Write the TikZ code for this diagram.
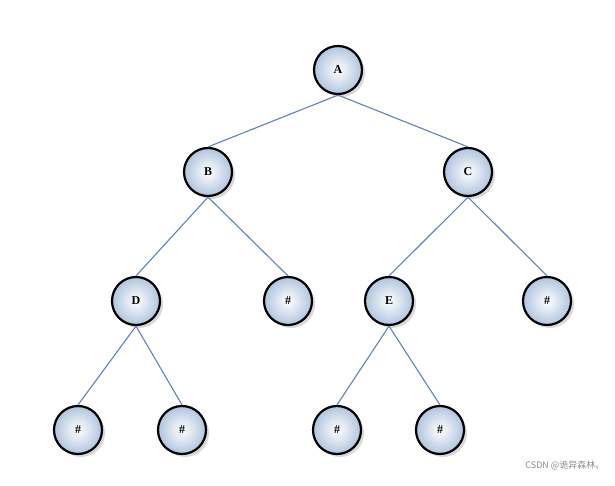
\documentclass[tikz,border=0pt]{standalone}
\usepackage{fontspec}
\setmainfont{Liberation Serif}
\newfontfamily\cjk{Noto Sans CJK SC}
\usetikzlibrary{shadows}
\begin{document}
\begin{tikzpicture}[x=1pt,y=-1pt,
  tn/.style={circle,draw=black,line width=2.2pt,minimum size=48pt,inner sep=0pt,
    inner color=white,outer color={rgb,255:red,176;green,196;blue,222},
    font=\bfseries\large,
    drop shadow={shadow xshift=3pt,shadow yshift=-3pt,fill=black!25,opacity=0.6}},
  ed/.style={draw={rgb,255:red,95;green,130;blue,180},line width=1.1pt}]
\useasboundingbox (0,0) rectangle (615,486);
\node[tn] (A) at (338,70) {A};
\node[tn] (B) at (208,172) {B};
\node[tn] (C) at (468,172) {C};
\node[tn] (D) at (136,301) {D};
\node[tn] (h1) at (288,301) {\#};
\node[tn] (E) at (389,301) {E};
\node[tn] (h2) at (547,301) {\#};
\node[tn] (h3) at (78,430) {\#};
\node[tn] (h4) at (182,430) {\#};
\node[tn] (h5) at (337,430) {\#};
\node[tn] (h6) at (440,430) {\#};
\begin{scope}[on background layer/.try]
\end{scope}
\foreach \p/\c in {A/B,A/C,B/D,B/h1,C/E,C/h2,D/h3,D/h4,E/h5,E/h6}
  \draw[ed] (\p.south) -- (\c.north);
\node[font=\cjk\small,text=black!45,anchor=east] (wm) at (608,465) {CSDN @诡异森林。};
\end{tikzpicture}
\end{document}
